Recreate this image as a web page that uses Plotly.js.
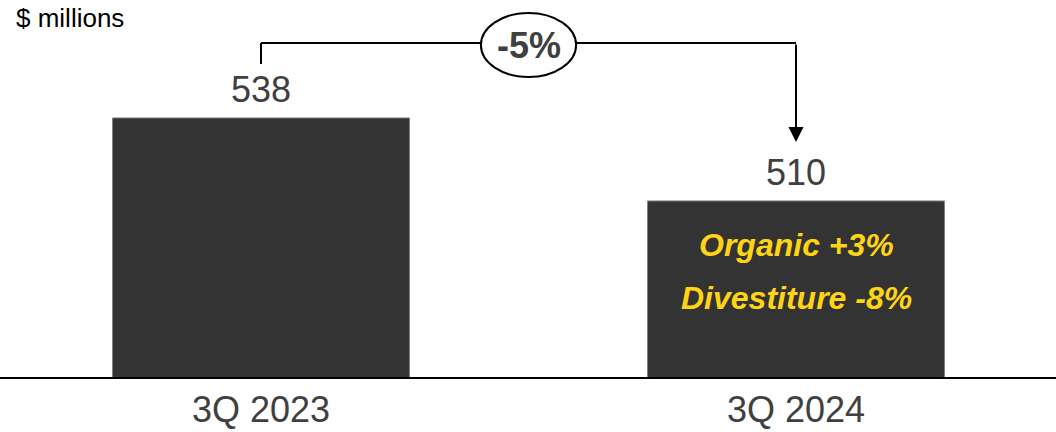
<!DOCTYPE html>
<html>
<head>
<meta charset="utf-8">
<script src="https://cdn.plot.ly/plotly-3.0.1.min.js"></script>
<style>html,body{margin:0;padding:0;background:#fff;}#chart{width:1056px;height:432px;}</style>
</head>
<body>
<div id="chart"></div>
<script>
const categories = ['3Q 2023', '3Q 2024'];
const revenue = [538, 510];
const unitLabel = '$ millions';
const changeLabel = '-5%';
const breakdownLabels = ['Organic +3%', 'Divestiture -8%'];

const FONT = 'Liberation Sans, Arial, sans-serif';
const GREY = '#404040';
const PH = 377; // plot height in px

const trace = {
  type: 'bar',
  x: categories,
  y: revenue,
  width: 0.555,
  marker: {color: '#333333', line: {color: '#7f7f7f', width: 1}},
  hoverinfo: 'skip'
};

const annotations = [];
categories.forEach((c, i) => {
  annotations.push({
    x: c, y: revenue[i], xref: 'x', yref: 'y',
    text: String(revenue[i]), showarrow: false,
    yanchor: 'middle', yshift: 28,
    font: {family: FONT, size: 36, color: GREY}
  });
});
annotations.push({
  x: 14 / 1056, y: 1 - 18 / PH, xref: 'paper', yref: 'paper',
  xanchor: 'left', yanchor: 'middle', showarrow: false,
  text: unitLabel, font: {family: FONT, size: 26, color: '#000000'}
});
const breakdownY = [1 - 245 / PH, 1 - 298 / PH];
breakdownLabels.forEach((t, k) => {
  annotations.push({
    x: categories[1], y: breakdownY[k], xref: 'x', yref: 'paper',
    text: '<b><i>' + t + '</i></b>', showarrow: false,
    yanchor: 'middle',
    font: {family: FONT, size: 32, color: '#FFD414'}
  });
});
annotations.push({
  x: 0.5, y: 1 - 45.5 / PH, xref: 'x', yref: 'paper',
  text: '<b>' + changeLabel + '</b>', showarrow: false,
  yanchor: 'middle',
  font: {family: FONT, size: 36, color: GREY}
});
annotations.push({
  x: 1, y: 1 - 142 / PH, xref: 'x', yref: 'paper',
  ax: 0, ay: -99, axref: 'pixel', ayref: 'pixel',
  showarrow: true, arrowhead: 2, arrowsize: 1.5, arrowwidth: 2,
  arrowcolor: '#000000', text: ''
});

const yTop = 1 - 43 / PH;
const shapes = [
  {type: 'line', xref: 'x', yref: 'paper', x0: 0, x1: 0, y0: 1 - 64 / PH, y1: yTop, line: {color: '#000', width: 2}},
  {type: 'line', xref: 'x', yref: 'paper', x0: 0, x1: 1, y0: yTop, y1: yTop, line: {color: '#000', width: 2}},
  {type: 'circle', xref: 'x', yref: 'paper', x0: 0.411, x1: 0.589, y0: 1 - 77 / PH, y1: 1 - 13 / PH,
   fillcolor: '#ffffff', line: {color: '#000', width: 2}}
];

const layout = {
  width: 1056, height: 432,
  margin: {l: 0, r: 0, t: 0, b: 55, pad: 0},
  paper_bgcolor: '#ffffff', plot_bgcolor: '#ffffff',
  showlegend: false,
  xaxis: {
    type: 'category', range: [-0.4879, 1.486],
    showline: true, linecolor: '#000000', linewidth: 2,
    showgrid: false, zeroline: false, ticks: '',
    tickfont: {family: FONT, size: 36, color: GREY},
    fixedrange: true
  },
  yaxis: {
    range: [450.6, 577.8], visible: false, showgrid: false, zeroline: false, fixedrange: true
  },
  annotations: annotations,
  shapes: shapes
};

Plotly.newPlot('chart', [trace], layout, {displayModeBar: false, staticPlot: true});
</script>
</body>
</html>
